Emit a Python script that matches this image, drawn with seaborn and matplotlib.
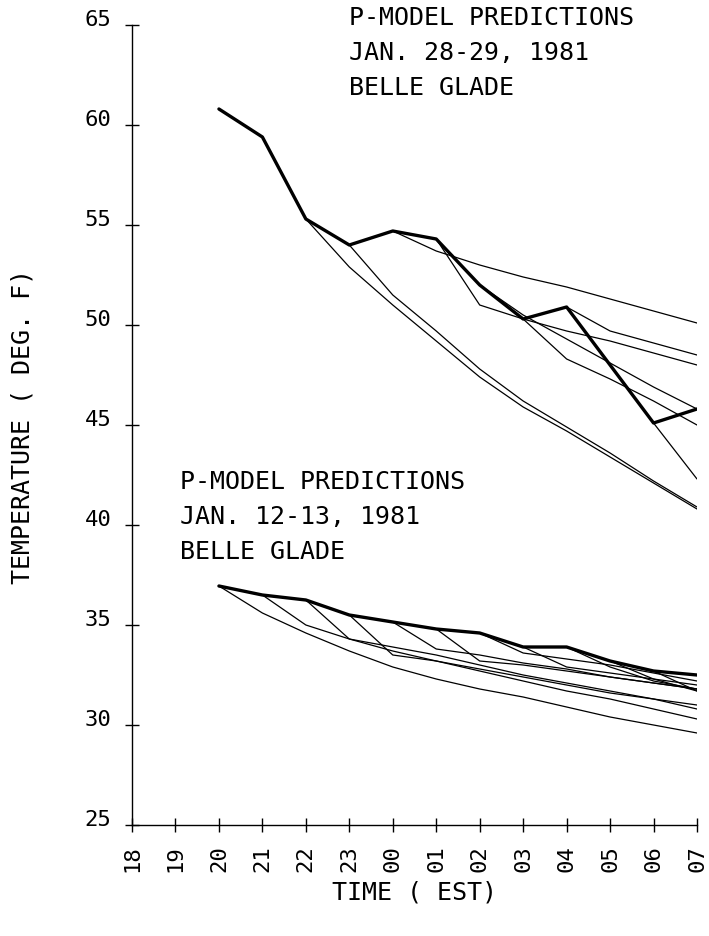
import matplotlib
matplotlib.use("Agg")
import matplotlib.pyplot as plt
import matplotlib.transforms as mtransforms
import seaborn as sns
import pandas as pd

# ---------------- data ----------------
hour_labels = ["18", "19", "20", "21", "22", "23", "00", "01",
               "02", "03", "04", "05", "06", "07"]

# Jan. 28-29, 1981 (observed, hours 20..07)
jan28_obs = [60.8, 59.4, 55.3, 54.0, 54.7, 54.3, 52.0, 50.3, 50.9, 48.0, 45.1, 45.8]
# predictions, each starting at the given hour and running to 07
jan28_p22 = [55.3, 52.9, 51.0, 49.2, 47.4, 45.9, 44.7, 43.4, 42.1, 40.8]
jan28_p23 = [54.0, 51.5, 49.7, 47.8, 46.2, 44.9, 43.6, 42.2, 40.9]
jan28_p00 = [54.7, 53.7, 53.0, 52.4, 51.9, 51.3, 50.7, 50.1]
jan28_p01 = [54.3, 51.0, 50.3, 49.7, 49.2, 48.6, 48.0]
jan28_p02 = [52.0, 50.5, 49.3, 48.1, 46.9, 45.8]
jan28_p03 = [50.3, 48.3, 47.3, 46.2, 45.0]
jan28_p04 = [50.9, 49.7, 49.1, 48.5]
jan28_p06 = [45.1, 42.3]

# Jan. 12-13, 1981 (observed, hours 20..07)
jan12_obs = [36.95, 36.5, 36.25, 35.5, 35.15, 34.8, 34.6, 33.9, 33.9, 33.2, 32.7, 32.5]
jan12_p20 = [36.95, 35.6, 34.6, 33.7, 32.9, 32.3, 31.8, 31.4, 30.9, 30.4, 30.0, 29.6]
jan12_p21 = [36.5, 35.0, 34.3, 33.7, 33.2, 32.7, 32.2, 31.7, 31.3, 30.8, 30.3]
jan12_p22 = [36.25, 34.3, 33.9, 33.5, 33.0, 32.5, 32.1, 31.7, 31.3, 30.8]
jan12_p23 = [35.5, 33.5, 33.2, 32.8, 32.4, 32.0, 31.6, 31.3, 31.0]
jan12_p00 = [35.15, 33.8, 33.5, 33.1, 32.8, 32.4, 32.1, 31.8]
jan12_p01 = [34.8, 33.2, 33.0, 32.7, 32.4, 32.1, 31.8]
jan12_p02 = [34.6, 33.6, 33.3, 33.0, 32.6, 32.2]
jan12_p03 = [33.9, 32.9, 32.6, 32.3, 32.0]
jan12_p04 = [33.9, 32.9, 32.2, 31.8]
jan12_p05 = [33.2, 32.3, 31.7]
jan12_p06 = [32.7, 31.7]

y_ticks = [25, 30, 35, 40, 45, 50, 55, 60, 65]

# ---------------- build long table ----------------
rows = []

def add(name, start_label, values, kind):
    s = hour_labels.index(start_label)
    for i, v in enumerate(values):
        rows.append({"series": name, "x": s + i, "temp": v, "kind": kind})

add("jan28_obs", "20", jan28_obs, "obs")
for lab, vals in [("22", jan28_p22), ("23", jan28_p23), ("00", jan28_p00),
                  ("01", jan28_p01), ("02", jan28_p02), ("03", jan28_p03),
                  ("04", jan28_p04), ("06", jan28_p06)]:
    add("jan28_p" + lab, lab, vals, "pred")
add("jan12_obs", "20", jan12_obs, "obs")
for lab, vals in [("20", jan12_p20), ("21", jan12_p21), ("22", jan12_p22),
                  ("23", jan12_p23), ("00", jan12_p00), ("01", jan12_p01),
                  ("02", jan12_p02), ("03", jan12_p03), ("04", jan12_p04),
                  ("05", jan12_p05), ("06", jan12_p06)]:
    add("jan12_p" + lab, lab, vals, "pred")

df = pd.DataFrame(rows)

# ---------------- plot ----------------
sns.set_style("ticks")
FONT = ["DejaVu Sans Mono", "DejaVu Sans"]
plt.rcParams["font.family"] = FONT

fig = plt.figure(figsize=(7.09, 9.37), dpi=100)
ax = fig.add_axes([132 / 709, 111 / 937, 565 / 709, 800 / 937])

pred = df[df["kind"] == "pred"]
obs = df[df["kind"] == "obs"]
sns.lineplot(data=pred, x="x", y="temp", units="series", estimator=None,
             color="black", linewidth=0.9, ax=ax, sort=False)
sns.lineplot(data=obs, x="x", y="temp", units="series", estimator=None,
             color="black", linewidth=2.4, ax=ax, sort=False)

ax.set_xlim(0, len(hour_labels) - 1)
ax.set_ylim(25, 65)
ax.set_xticks(range(len(hour_labels)))
ax.set_xticklabels(hour_labels, rotation=90)
ax.set_yticks(y_ticks)
ax.set_yticklabels([str(t) for t in y_ticks])

for side in ["top", "right"]:
    ax.spines[side].set_visible(False)
for side in ["left", "bottom"]:
    ax.spines[side].set_linewidth(1.0)
    ax.spines[side].set_color("black")

ax.tick_params(axis="both", direction="inout", length=10, width=1.0,
               color="black", labelsize=16, labelcolor="black")
ax.tick_params(axis="y", pad=10)
ax.tick_params(axis="x", pad=9)

# y tick labels sit a little above their ticks, as in the plotter output
shift = mtransforms.ScaledTranslation(0, 6 / 72, fig.dpi_scale_trans)
for lbl in ax.get_yticklabels():
    lbl.set_transform(lbl.get_transform() + shift)

ax.set_xlabel("TIME ( EST)", fontsize=18, labelpad=6, color="black")
ax.set_ylabel("TEMPERATURE ( DEG. F)", fontsize=18, labelpad=36, color="black")
ax.grid(False)

txt = dict(fontsize=18, color="black", ha="left", va="center", clip_on=False)
ax.text(5.0, 65.4, "P-MODEL PREDICTIONS", **txt)
ax.text(5.0, 63.65, "JAN. 28-29, 1981", **txt)
ax.text(5.0, 61.9, "BELLE GLADE", **txt)
ax.text(1.1, 42.2, "P-MODEL PREDICTIONS", **txt)
ax.text(1.1, 40.45, "JAN. 12-13, 1981", **txt)
ax.text(1.1, 38.7, "BELLE GLADE", **txt)

fig.savefig("out.png", dpi=100, facecolor="white")
